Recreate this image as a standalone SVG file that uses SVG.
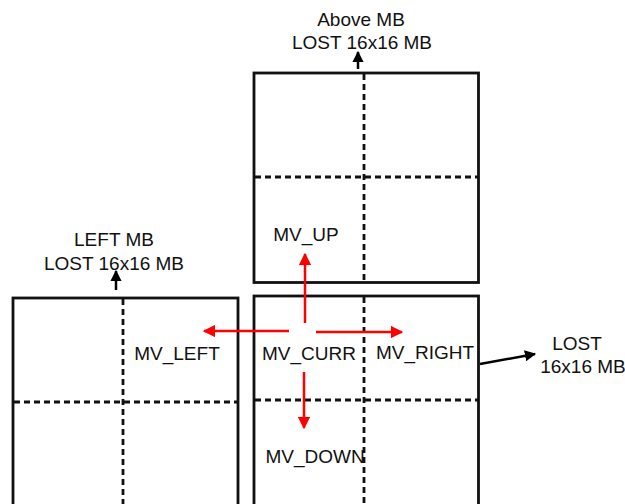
<svg xmlns="http://www.w3.org/2000/svg" width="625" height="504" viewBox="0 0 625 504">
<defs>
<style>
.box{fill:none;stroke:#111;stroke-width:2.8}
.dash{fill:none;stroke:#111;stroke-width:2.8;stroke-dasharray:6 4}
.red{fill:none;stroke:#f00;stroke-width:2.5}
.blk{fill:none;stroke:#000;stroke-width:2.5}
text{font-family:"Liberation Sans",Arial,sans-serif;font-size:19px;fill:#111;text-anchor:middle}
</style>
<marker id="rh" viewBox="0 0 10 10" refX="9" refY="5" markerWidth="5" markerHeight="5" markerUnits="strokeWidth" orient="auto"><path d="M0,0 L10,5 L0,10 z" fill="#f00"/></marker>
<marker id="bh" viewBox="0 0 10 10" refX="9" refY="5" markerWidth="4.5" markerHeight="4.5" markerUnits="strokeWidth" orient="auto"><path d="M0,0 L10,5 L0,10 z" fill="#000"/></marker>
</defs>
<rect width="625" height="504" fill="#fff"/>
<g id="above-mb">
<rect class="box" x="254" y="73" width="224.5" height="209.5"/>
<line class="dash" x1="364" y1="74" x2="364" y2="282"/>
<line class="dash" x1="255" y1="177" x2="478" y2="177"/>
<text x="361" y="26">Above MB</text>
<text x="362" y="49">LOST 16x16 MB</text>
<text x="306" y="241">MV_UP</text>
</g>
<g id="left-mb">
<rect class="box" x="13" y="298" width="225" height="220"/>
<line class="dash" x1="123" y1="299" x2="123" y2="504"/>
<line class="dash" x1="14" y1="402" x2="238" y2="402"/>
<text x="114" y="246">LEFT MB</text>
<text x="114" y="270">LOST 16x16 MB</text>
<text x="177" y="360">MV_LEFT</text>
</g>
<g id="curr-mb">
<rect class="box" x="254" y="296" width="224.5" height="220"/>
<line class="dash" x1="364" y1="297" x2="364" y2="504"/>
<line class="dash" x1="255" y1="400" x2="478" y2="400"/>
<text x="309" y="360">MV_CURR</text>
<text x="425" y="359">MV_RIGHT</text>
<text x="315" y="463">MV_DOWN</text>
</g>
<g id="lost-label">
<text x="577" y="350">LOST</text>
<text x="583" y="373">16x16 MB</text>
</g>
<g id="connectors">
<line class="red" x1="305" y1="323" x2="305" y2="254" marker-end="url(#rh)"/>
<line class="red" x1="289" y1="331" x2="204" y2="331" marker-end="url(#rh)"/>
<line class="red" x1="316" y1="332" x2="402" y2="332" marker-end="url(#rh)"/>
<line class="red" x1="304" y1="372" x2="304" y2="428" marker-end="url(#rh)"/>
<line class="blk" x1="358" y1="69" x2="358" y2="52" marker-end="url(#bh)"/>
<line class="blk" x1="116" y1="290" x2="116" y2="271" marker-end="url(#bh)"/>
<line class="blk" x1="480" y1="364" x2="535" y2="354" marker-end="url(#bh)"/>
</g>
</svg>
